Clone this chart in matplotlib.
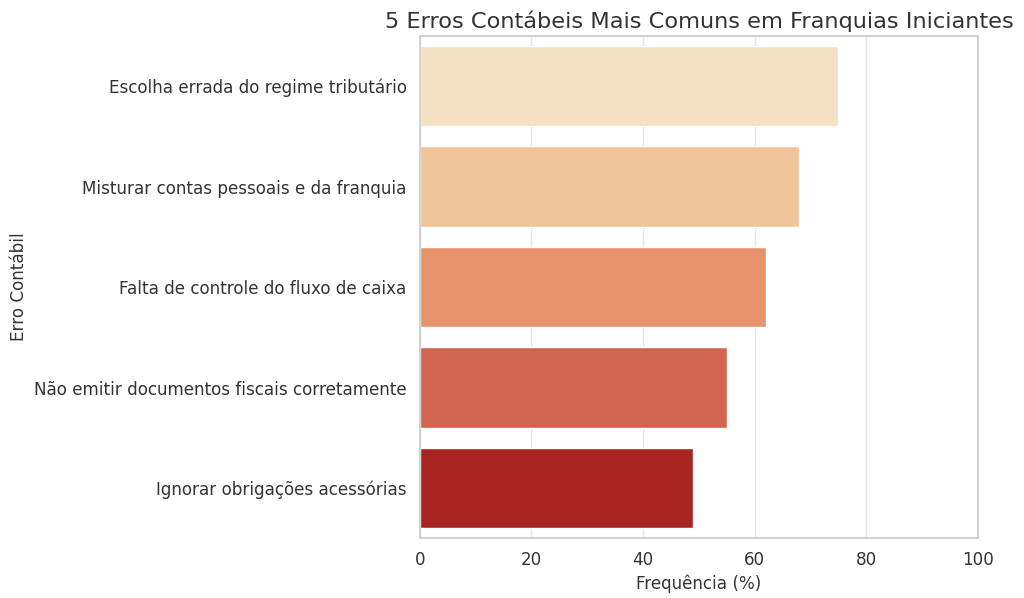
import matplotlib
matplotlib.use('Agg')
import matplotlib.pyplot as plt
import seaborn as sns
import pandas as pd

erros = ['Escolha errada do regime tributário',
         'Misturar contas pessoais e da franquia',
         'Falta de controle do fluxo de caixa',
         'Não emitir documentos fiscais corretamente',
         'Ignorar obrigações acessórias']
frequencia = [75, 68, 62, 55, 49]

sns.set_theme(style='whitegrid')
plt.rcParams['text.color'] = '#333333'
plt.rcParams['axes.labelcolor'] = '#333333'
plt.rcParams['xtick.color'] = '#333333'
plt.rcParams['ytick.color'] = '#333333'
plt.rcParams['grid.color'] = '#e6e6e6'
df = pd.DataFrame({'Erro Contábil': erros, 'Frequência (%)': frequencia})

fig, ax = plt.subplots(figsize=(10.24, 5.98), dpi=100)
sns.barplot(data=df, x='Frequência (%)', y='Erro Contábil', hue='Erro Contábil',
            palette='OrRd', legend=False, ax=ax)
ax.set_xlim(0, 100)
ax.set_title('5 Erros Contábeis Mais Comuns em Franquias Iniciantes', fontsize=16.2)
ax.tick_params(labelsize=12.1)
ax.set_xlabel('Frequência (%)', fontsize=12.1)
ax.set_ylabel('Erro Contábil', fontsize=12.1)
fig.subplots_adjust(left=0.41, right=0.955, top=0.94, bottom=0.1)
fig.savefig('out.png', dpi=100)
